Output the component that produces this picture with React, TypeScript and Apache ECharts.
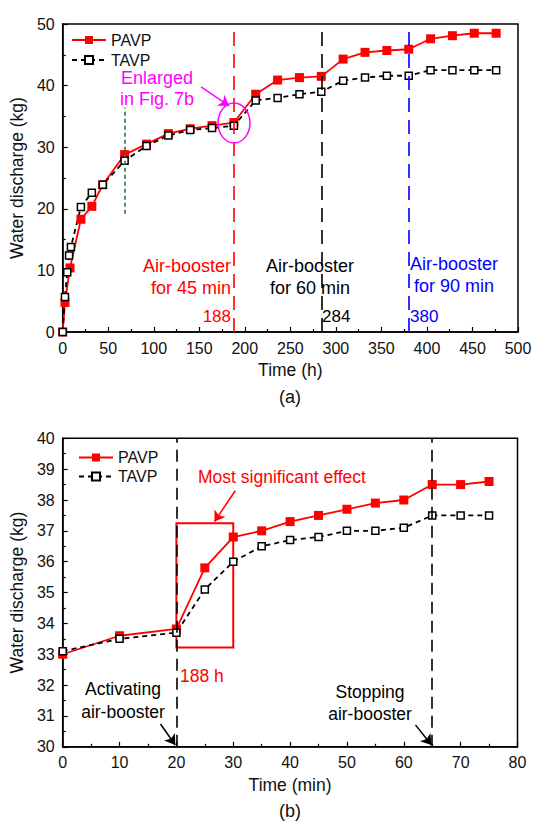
import React, { useEffect, useRef } from 'react';
import * as echarts from 'echarts';

// ---- Data (a): long-term water discharge vs time (h)
const timeTopPAVP = [0, 2.5, 8, 20, 32, 44, 68, 92, 116, 140, 164, 188, 212, 236, 260, 284, 308, 332, 356, 380, 404, 428, 452, 476];
const waterTopPAVP = [0, 4.8, 10.4, 18.3, 20.4, 23.9, 28.8, 30.5, 32.2, 33.0, 33.5, 34.0, 38.6, 40.9, 41.3, 41.5, 44.3, 45.4, 45.7, 45.9, 47.6, 48.1, 48.5, 48.5];
const timeTopTAVP = [0, 2.5, 5, 7, 9, 20, 32, 44, 68, 92, 116, 140, 164, 188, 212, 236, 260, 284, 308, 332, 356, 380, 404, 428, 452, 476];
const waterTopTAVP = [0, 5.7, 9.7, 12.4, 13.8, 20.3, 22.6, 23.9, 27.8, 30.2, 31.9, 32.8, 33.1, 33.5, 37.6, 38.0, 38.6, 39.0, 40.8, 41.3, 41.6, 41.6, 42.5, 42.5, 42.5, 42.5];
const boosterHours = [188, 284, 380];
const boosterColors = ['#ff0000', '#000000', '#0000ff'];
const greenMarkHour = 68;
const greenMarkRange = [19.2, 36.4];

// ---- Data (b): enlarged, water discharge vs time (min)
const timeBottom = [0, 10, 20, 25, 30, 35, 40, 45, 50, 55, 60, 65, 70, 75];
const waterBottomPAVP = [33.0, 33.6, 33.82, 35.8, 36.8, 37.0, 37.3, 37.5, 37.7, 37.9, 38.0, 38.5, 38.5, 38.6];
const waterBottomTAVP = [33.1, 33.5, 33.7, 35.1, 36.0, 36.5, 36.7, 36.8, 37.0, 37.0, 37.1, 37.5, 37.5, 37.5];
const activateMin = 20;
const stopMin = 65;
const effectBox = [[20, 37.25], [30, 33.22]];

const FONT = 'Arial, "Liberation Sans", sans-serif';

const zip = (xs: number[], ys: number[]) => xs.map((x, i) => [x, ys[i]]);

const axisCommon = {
  axisLine: { show: true, onZero: false, lineStyle: { color: '#000', width: 1.5 } },
  axisTick: { show: true, inside: true, length: 5, lineStyle: { color: '#000', width: 1.2 } },
  minorTick: { show: true, splitNumber: 2, length: 3, lineStyle: { color: '#000', width: 1.2 } },
  splitLine: { show: false },
  minorSplitLine: { show: false },
  axisLabel: { color: '#111', fontSize: 16, fontFamily: FONT, fontWeight: 'normal', margin: 8 },
  nameTextStyle: { color: '#111', fontSize: 17.5, fontFamily: FONT, fontWeight: 'normal' },
};

const pavpStyle = (xAxisIndex: number) => ({
  type: 'line',
  name: 'PAVP',
  xAxisIndex,
  yAxisIndex: xAxisIndex,
  symbol: 'rect',
  symbolSize: 9,
  showAllSymbol: true,
  itemStyle: { color: '#ff0000' },
  lineStyle: { color: '#ff0000', width: 1.8 },
});

const tavpStyle = (xAxisIndex: number) => ({
  type: 'line',
  name: 'TAVP',
  xAxisIndex,
  yAxisIndex: xAxisIndex,
  symbol: 'rect',
  symbolSize: 7,
  showAllSymbol: true,
  itemStyle: { color: '#ffffff', borderColor: '#000', borderWidth: 1.5 },
  lineStyle: { color: '#000', width: 1.8, type: [5, 4] },
});

const arrow = (from: number[], to: number[], color: string) => [
  { coord: from, symbol: 'none', lineStyle: { color, width: 1.5, type: 'solid' } },
  { coord: to, symbol: 'arrow', symbolSize: 10, lineStyle: { color, width: 1.5, type: 'solid' } },
];

export default function App() {
  const ref = useRef<HTMLDivElement>(null);

  useEffect(() => {
    if (!ref.current) return;
    const chart = echarts.init(ref.current, null, { renderer: 'svg' });

    const option: any = {
      animation: false,
      backgroundColor: '#fff',
      textStyle: { fontFamily: FONT, fontWeight: 'normal' },
      grid: [
        { left: 61, top: 24, width: 457, height: 308, show: true, borderColor: '#000', borderWidth: 1.5, backgroundColor: 'transparent' },
        { left: 62, top: 438.3, width: 455.5, height: 308.5, show: true, borderColor: '#000', borderWidth: 1.5, backgroundColor: 'transparent' },
      ],
      legend: [
        {
          left: 66, top: 27, orient: 'vertical', itemGap: 4, itemWidth: 34, itemHeight: 10,
          textStyle: { fontSize: 16, color: '#111', fontFamily: FONT },
          data: [{ name: 'PAVP' }, { name: 'TAVP' }],
        },
        {
          left: 73, top: 444.5, orient: 'vertical', itemGap: 3, itemWidth: 34, itemHeight: 10,
          textStyle: { fontSize: 16, color: '#111', fontFamily: FONT },
          data: [{ name: 'PAVP' }, { name: 'TAVP' }],
        },
      ],
      xAxis: [
        { ...axisCommon, type: 'value', gridIndex: 0, min: 0, max: 500, interval: 50, name: 'Time (h)', nameLocation: 'middle', nameGap: 29 },
        { ...axisCommon, type: 'value', gridIndex: 1, min: 0, max: 80, interval: 10, name: 'Time (min)', nameLocation: 'middle', nameGap: 29 },
      ],
      yAxis: [
        { ...axisCommon, type: 'value', gridIndex: 0, min: 0, max: 50, interval: 10, name: 'Water discharge (kg)', nameLocation: 'middle', nameGap: 28 },
        { ...axisCommon, type: 'value', gridIndex: 1, min: 30, max: 40, interval: 1, name: 'Water discharge (kg)', nameLocation: 'middle', nameGap: 29 },
      ],
      series: [
        {
          ...pavpStyle(0),
          data: zip(timeTopPAVP, waterTopPAVP),
          markLine: {
            silent: true,
            symbol: ['none', 'none'],
            label: { show: false },
            data: [
              ...boosterHours.map((h, i) => ({ xAxis: h, lineStyle: { color: boosterColors[i], width: 1.6, type: [14, 8] } })),
              [
                { coord: [greenMarkHour, greenMarkRange[0]], lineStyle: { color: '#1e7a4c', width: 1.6, type: [4, 3] } },
                { coord: [greenMarkHour, greenMarkRange[1]], lineStyle: { color: '#1e7a4c', width: 1.6, type: [4, 3] } },
              ],
              arrow([152, 39.8], [182.7, 36.7], '#ff00ff'),
            ],
          },
        },
        { ...tavpStyle(0), data: zip(timeTopTAVP, waterTopTAVP) },
        {
          ...pavpStyle(1),
          data: zip(timeBottom, waterBottomPAVP),
          markLine: {
            silent: true,
            symbol: ['none', 'none'],
            label: { show: false },
            data: [
              { xAxis: activateMin, lineStyle: { color: '#000', width: 1.6, type: [12, 7] } },
              { xAxis: stopMin, lineStyle: { color: '#000', width: 1.6, type: [12, 7] } },
              arrow([30.35, 38.3], [26.7, 37.3], '#ff0000'),
              arrow([17.2, 30.74], [19.8, 30.06], '#000'),
              arrow([62.05, 30.71], [64.86, 30.06], '#000'),
            ],
          },
          markArea: {
            silent: true,
            itemStyle: { color: 'rgba(0,0,0,0)', borderColor: '#ff0000', borderWidth: 2 },
            data: [[{ coord: effectBox[0] }, { coord: effectBox[1] }]],
          },
        },
        { ...tavpStyle(1), data: zip(timeBottom, waterBottomTAVP) },
      ],
      graphic: [
        { type: 'ellipse', shape: { cx: 234, cy: 123, rx: 16, ry: 20 }, style: { fill: 'none', stroke: '#ff00ff', lineWidth: 1.5 }, z: 10 },
        { type: 'text', style: { text: 'Enlarged\nin Fig. 7b', x: 157, y: 88, fill: '#ff00ff', fontSize: 18, fontFamily: FONT, align: 'center', verticalAlign: 'middle', lineHeight: 21 } },
        { type: 'text', style: { text: 'Air-booster\nfor 45 min', x: 231, y: 277, fill: '#ff0000', fontSize: 18, fontFamily: FONT, align: 'right', verticalAlign: 'middle', lineHeight: 22 } },
        { type: 'text', style: { text: '188', x: 231, y: 316, fill: '#ff0000', fontSize: 17, fontFamily: FONT, align: 'right', verticalAlign: 'middle' } },
        { type: 'text', style: { text: 'Air-booster\nfor 60 min', x: 310, y: 277, fill: '#000', fontSize: 18, fontFamily: FONT, align: 'center', verticalAlign: 'middle', lineHeight: 22 } },
        { type: 'text', style: { text: '284', x: 322, y: 316, fill: '#000', fontSize: 17, fontFamily: FONT, align: 'left', verticalAlign: 'middle' } },
        { type: 'text', style: { text: 'Air-booster\nfor 90 min', x: 454, y: 275, fill: '#0000ff', fontSize: 18, fontFamily: FONT, align: 'center', verticalAlign: 'middle', lineHeight: 22 } },
        { type: 'text', style: { text: '380', x: 410, y: 316, fill: '#0000ff', fontSize: 17, fontFamily: FONT, align: 'left', verticalAlign: 'middle' } },
        { type: 'text', style: { text: '(a)', x: 290, y: 397, fill: '#111', fontSize: 18, fontFamily: FONT, align: 'center', verticalAlign: 'middle' } },
        { type: 'text', style: { text: 'Most significant effect', x: 282, y: 477, fill: '#ff0000', fontSize: 17.5, fontFamily: FONT, align: 'center', verticalAlign: 'middle' } },
        { type: 'text', style: { text: '188 h', x: 180, y: 676, fill: '#ff0000', fontSize: 17.5, fontFamily: FONT, align: 'left', verticalAlign: 'middle' } },
        { type: 'text', style: { text: 'Activating\nair-booster', x: 123, y: 700, fill: '#000', fontSize: 17.5, fontFamily: FONT, align: 'center', verticalAlign: 'middle', lineHeight: 23 } },
        { type: 'text', style: { text: 'Stopping\nair-booster', x: 370, y: 703, fill: '#000', fontSize: 17.5, fontFamily: FONT, align: 'center', verticalAlign: 'middle', lineHeight: 22 } },
        { type: 'text', style: { text: '(b)', x: 290, y: 811, fill: '#111', fontSize: 18, fontFamily: FONT, align: 'center', verticalAlign: 'middle' } },
      ],
    };

    chart.setOption(option);
    return () => chart.dispose();
  }, []);

  return <div ref={ref} style={{ position: 'absolute', left: 0, top: 0, width: 537, height: 822 }} />;
}
